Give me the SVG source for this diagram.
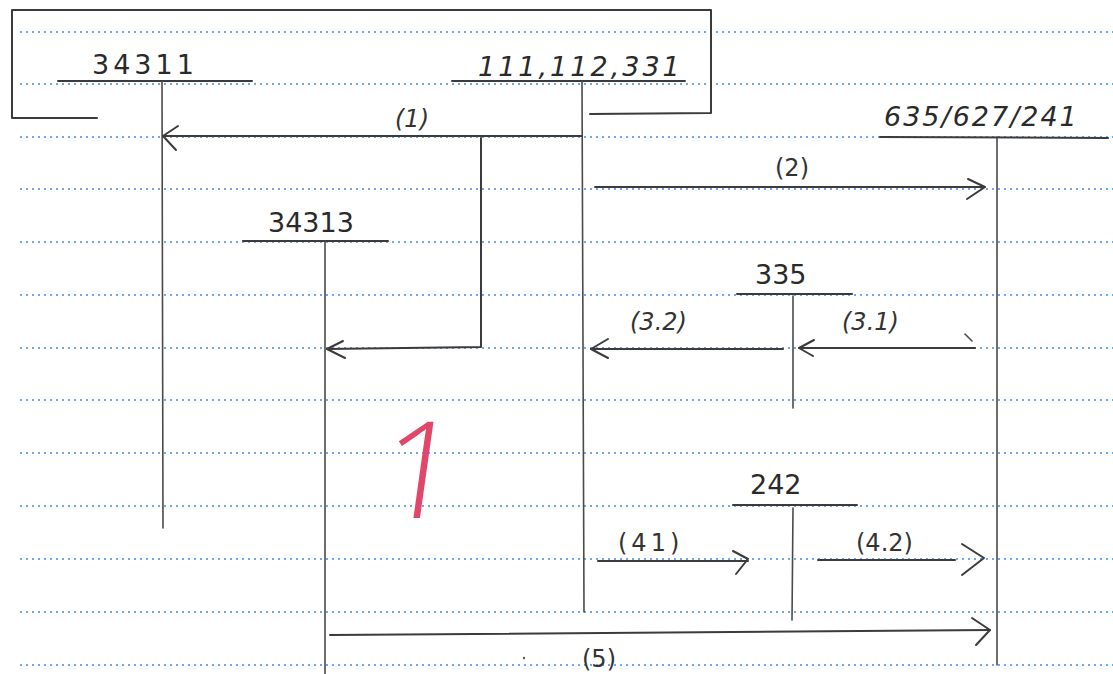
<svg xmlns="http://www.w3.org/2000/svg" width="1113" height="674" viewBox="0 0 1113 674">
<defs>
<style>
.rule{stroke:#6fa8e6;stroke-width:2;stroke-dasharray:2 4;fill:none}
.ln{stroke:#3b3b3b;stroke-width:2;fill:none;stroke-linecap:round;stroke-linejoin:round}
.thin{stroke:#4a4a4a;stroke-width:1.6;fill:none;stroke-linecap:round}
.acct{font-family:"DejaVu Sans",sans-serif;font-size:27px;fill:#2a2a2a}
.lbl{font-family:"DejaVu Sans",sans-serif;font-size:24px;fill:#333}
</style>
</defs>
<rect width="1113" height="674" fill="#ffffff"/>
<g id="rules">
<line class="rule" x1="20" y1="32" x2="1113" y2="32"/>
<line class="rule" x1="20" y1="84" x2="1113" y2="84"/>
<line class="rule" x1="20" y1="137" x2="1113" y2="137"/>
<line class="rule" x1="20" y1="189" x2="1113" y2="189"/>
<line class="rule" x1="20" y1="242" x2="1113" y2="242"/>
<line class="rule" x1="20" y1="295" x2="1113" y2="295"/>
<line class="rule" x1="20" y1="348" x2="1113" y2="348"/>
<line class="rule" x1="20" y1="400" x2="1113" y2="400"/>
<line class="rule" x1="20" y1="453" x2="1113" y2="453"/>
<line class="rule" x1="20" y1="506" x2="1113" y2="506"/>
<line class="rule" x1="20" y1="559" x2="1113" y2="559"/>
<line class="rule" x1="20" y1="612" x2="1113" y2="612"/>
<line class="rule" x1="20" y1="665" x2="1113" y2="665"/>
</g>
<g id="acc-34311">
<text class="acct" x="92" y="74" letter-spacing="4">34311</text>
<line class="ln" x1="58" y1="81" x2="252" y2="81"/>
<line class="thin" x1="162" y1="81" x2="163" y2="528"/>
</g>
<g id="acc-111-112-331">
<text class="acct" x="478" y="76" font-style="italic" letter-spacing="3">111,112,331</text>
<line class="ln" x1="452" y1="81" x2="685" y2="81"/>
<line class="thin" x1="582" y1="81" x2="584" y2="612"/>
</g>
<g id="acc-635-627-241">
<text class="acct" x="884" y="126" font-style="italic" font-size="25" letter-spacing="2">635/627/241</text>
<line class="ln" x1="880" y1="137" x2="1108" y2="138"/>
<line class="thin" x1="997" y1="137" x2="997" y2="665"/>
</g>
<g id="acc-34313">
<text class="acct" x="268" y="232">34313</text>
<line class="ln" x1="243" y1="241" x2="388" y2="241"/>
<line class="thin" x1="325" y1="241" x2="325" y2="674"/>
</g>
<g id="acc-335">
<text class="acct" x="755" y="284">335</text>
<line class="ln" x1="737" y1="294" x2="852" y2="294"/>
<line class="thin" x1="793" y1="296" x2="793" y2="408"/>
</g>
<g id="acc-242">
<text class="acct" x="750" y="494">242</text>
<line class="ln" x1="733" y1="505" x2="857" y2="505"/>
<line class="thin" x1="793" y1="508" x2="792" y2="620"/>
</g>
<g id="connectors">
<path class="ln" d="M97 118 L12 118 L12 10 L711 10 L711 113 L590 114"/>
<line class="ln" x1="582" y1="136" x2="163" y2="136"/>
<path class="ln" d="M178 126 L163 136 L176 150"/>
<text class="lbl" x="395" y="127" font-style="italic">(1)</text>
<path class="ln" d="M481 138 L481 347 L327 349"/>
<path class="ln" d="M343 341 L327 349 L345 358"/>
<line class="ln" x1="595" y1="187" x2="985" y2="187"/>
<path class="ln" d="M968 179 L985 187 L967 199"/>
<text class="lbl" x="775" y="176">(2)</text>
<line class="ln" x1="975" y1="348" x2="799" y2="348"/>
<path class="ln" d="M814 340 L799 348 L813 356"/>
<path class="thin" d="M965 334 L972 341"/>
<text class="lbl" x="842" y="330" font-style="italic">(3.1)</text>
<line class="ln" x1="783" y1="349" x2="591" y2="349"/>
<path class="ln" d="M608 339 L591 349 L608 358"/>
<text class="lbl" x="630" y="330" font-style="italic">(3.2)</text>
<line class="ln" x1="598" y1="561" x2="748" y2="561"/>
<path class="ln" d="M733 551 L748 559 L736 574"/>
<text class="lbl" x="618" y="551" font-size="28" letter-spacing="4">(41)</text>
<line class="ln" x1="818" y1="560" x2="955" y2="560"/>
<path class="ln" d="M962 544 L984 558 L962 575" stroke-width="2.6"/>
<text class="lbl" x="856" y="551" font-size="27" fill="#777">(4.2)</text>
<line class="ln" x1="330" y1="635" x2="990" y2="630"/>
<path class="ln" d="M972 618 L990 630 L976 645"/>
<text class="lbl" x="582" y="667" font-size="18">(5)</text>
<circle cx="524" cy="658" r="1.2" fill="#555"/>
</g>
<g id="mark">
<text x="0" y="0" font-family="'Open Sans', 'Noto Sans', sans-serif" font-size="135" font-weight="300" fill="#e0476b" transform="translate(375 518) skewX(-8)">1</text>
</g>
</svg>
